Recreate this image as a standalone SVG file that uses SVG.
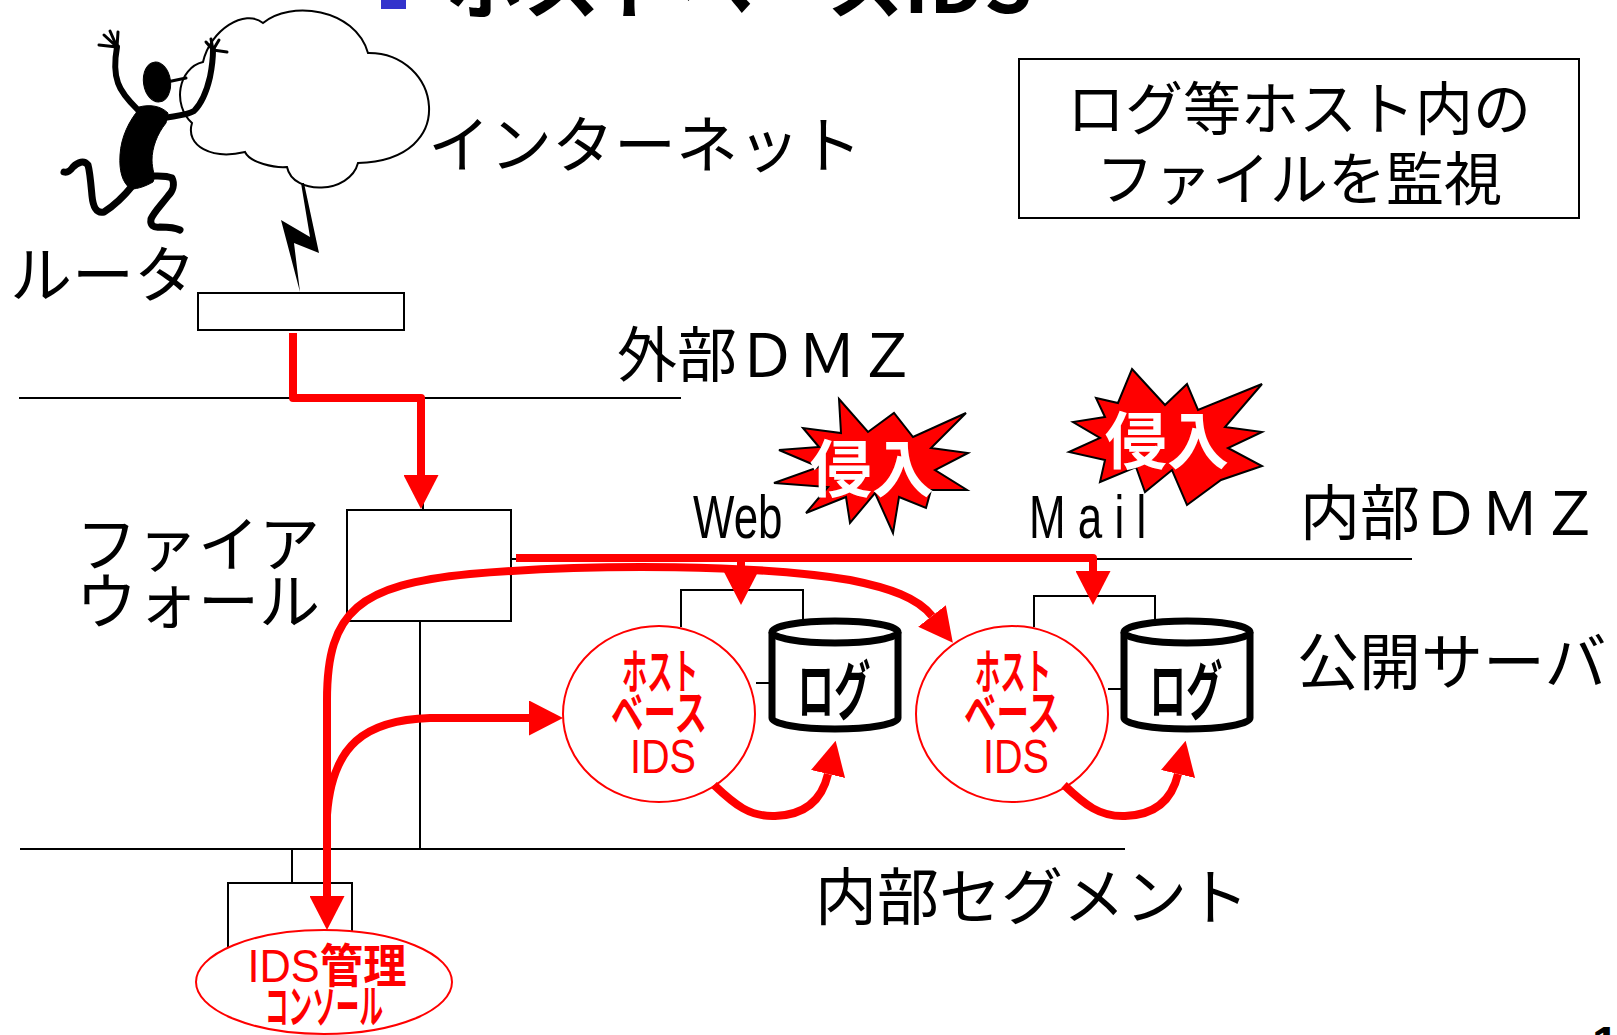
<svg xmlns="http://www.w3.org/2000/svg" width="1617" height="1035" viewBox="0 0 1617 1035">
  <defs>
    <style>
      .jp { font-family: "Noto Sans CJK JP", "Liberation Sans", sans-serif; fill: #000; }
      .lbl { font-size: 62px; }
      .seg { stroke: #000; stroke-width: 2; fill: none; }
      .thin { stroke: #000; stroke-width: 2; fill: none; }
      .box { stroke: #000; stroke-width: 2; fill: #fff; }
      .ids { fill: #fff; stroke: #ff0000; stroke-width: 2; }
      .cyl { fill: #fff; stroke: #000; stroke-width: 7; }
      .red { stroke: #ff0000; stroke-width: 8; fill: none; stroke-linejoin: round; }
      .rt { font-family: "Noto Sans CJK JP", sans-serif; font-weight: 700; fill: #ff0000; text-anchor: middle; }
      .rl { font-family: "Liberation Sans", sans-serif; font-weight: 400; fill: #ff0000; text-anchor: middle; }
      .logt { font-family: "Noto Sans CJK JP", sans-serif; font-weight: 700; font-size: 64px; fill: #000; text-anchor: middle; }
      .burst { fill: #ff0000; stroke: #000; stroke-width: 2; stroke-linejoin: miter; }
      .burstt { font-family: "Noto Sans CJK JP", sans-serif; font-weight: 700; font-size: 62px; fill: #fff; }
      .lat { font-family: "Liberation Sans", sans-serif; font-size: 61px; fill: #000; }
    </style>
    <marker id="ah" markerUnits="userSpaceOnUse" markerWidth="34" markerHeight="35" viewBox="0 0 34 35" refX="0" refY="17.5" orient="auto-start-reverse">
      <path d="M0,0 L34,17.5 L0,35 Z" fill="#ff0000"/>
    </marker>
  </defs>

  <rect width="1617" height="1035" fill="#fff"/>

  <!-- slide title (runs off the top edge) -->
  <g id="title">
    <rect x="381" y="-20" width="25" height="29" fill="#3333cc"/>
    <text class="jp" x="446" y="13" font-size="75" font-weight="700" textLength="586" lengthAdjust="spacingAndGlyphs">ホストベースIDS</text>
  </g>

  <!-- network segments -->
  <g id="segments">
    <path class="seg" d="M19,398 H681"/>
    <path class="seg" d="M511,559 H1412"/>
    <path class="seg" d="M20,849 H1125"/>
  </g>

  <!-- segment and device labels -->
  <g id="labels">
    <text class="jp lbl" x="428" y="168">インターネット</text>
    <text class="jp lbl" x="10" y="298">ルータ</text>
    <text class="jp" x="617" y="377" font-size="60">外部ＤＭＺ</text>
    <text class="jp" x="76" y="567" font-size="61">ファイア</text>
    <text class="jp" x="76" y="624" font-size="61">ウォール</text>
    <text class="jp" x="1300" y="535" font-size="60">内部ＤＭＺ</text>
    <text class="jp lbl" x="1297" y="685">公開サーバ</text>
    <text class="jp lbl" x="815" y="920">内部セグメント</text>
    <text class="lat" transform="translate(693,538) scale(0.72,1)">Web</text>
    <text class="lat" transform="translate(1029,538) scale(0.72,1)" letter-spacing="17">Mail</text>
  </g>

  <!-- note box -->
  <g id="note">
    <rect class="box" x="1019" y="59" width="560" height="159"/>
    <text class="jp" x="1299" y="130" font-size="58" text-anchor="middle">ログ等ホスト内の</text>
    <text class="jp" x="1299" y="200" font-size="58" text-anchor="middle">ファイルを監視</text>
  </g>

  <!-- internet cloud with intruder -->
  <g id="internet">
    <path d="M203,62 C210,30 245,8 263,23 C290,0 355,8 368,53 C440,52 462,160 358,163 C350,194 293,196 287,167 C275,168 250,163 245,152 C212,160 185,146 192,123 C172,105 178,68 203,62 Z" fill="#fff" stroke="#000" stroke-width="2"/>
    <g id="intruder" fill="#000" stroke="#000" stroke-linecap="round" stroke-linejoin="round">
      <ellipse cx="157" cy="82" rx="13.5" ry="20" transform="rotate(-8 157 82)"/>
      <path d="M167,82 L186,78" stroke-width="3" fill="none"/>
      <path d="M139,107 C150,104 161,106 168,113 L166,123 C157,134 152,148 152,160 C152,170 156,176 153,182 C146,186 138,189 131,189 C122,183 119,170 120,155 C121,137 129,121 139,109 Z" stroke-width="1"/>
      <path d="M140,112 C133,105 122,95 118,83 C114,72 115,58 117,47" stroke-width="6" fill="none"/>
      <path d="M117,47 L99,45 M117,47 L104,35 M117,47 L110,31 M117,47 L118,32" stroke-width="3" fill="none"/>
      <path d="M165,118 C175,116 188,115 194,111 C201,104 207,90 210,77 C212,67 213,58 213,50" stroke-width="6" fill="none"/>
      <path d="M213,50 L206,42 M213,50 L211,39 M213,50 L219,40 M213,50 L227,52" stroke-width="3" fill="none"/>
      <path d="M133,185 C125,195 115,205 104,212 C96,214 93,206 92,196 C91,185 90,172 88,165 C84,160 78,162 73,167 C70,171 67,173 64,172" stroke-width="7" fill="none"/>
      <path d="M150,176 C158,176 166,175 172,178 C175,184 173,191 168,196 C162,204 154,212 151,219 C150,225 153,228 160,227 C167,227 174,227 180,230" stroke-width="7" fill="none"/>
    </g>
  </g>

  <!-- router -->
  <g id="router">
    <rect class="box" x="198" y="293" width="206" height="37"/>
  </g>

  <!-- firewall -->
  <g id="firewall">
    <rect class="box" x="347" y="510" width="164" height="111"/>
  </g>

  <!-- intrusion bursts -->
  <g id="burst-web">
    <polygon class="burst" points="839,399 868,432 894,413 913,437 966,413 931,448 968,453 935,470 967,490 931,490 926,508 899,497 893,533 875,493 850,523 846,497 806,513 828,487 774,483 819,467 779,450 819,447 803,428 841,433"/>
    <text class="burstt" x="810" y="492">侵入</text>
  </g>
  <g id="burst-mail">
    <polygon class="burst" points="1132,369 1165,405 1187,384 1198,410 1262,384 1225,427 1262,432 1228,448 1262,466 1221,480 1187,505 1172,470 1145,492 1136,467 1100,482 1105,460 1069,452 1100,438 1073,422 1105,417 1096,398 1118,403"/>
    <text class="burstt" x="1105" y="464">侵入</text>
  </g>

  <!-- Web server: host IDS + log -->
  <g id="web-server">
    <path class="thin" d="M681,627 V590 H803 V620 M756,683 H772"/>
    <ellipse class="ids" cx="659" cy="714" rx="96" ry="88"/>
    <text class="rt" x="660" y="689" font-size="48" textLength="76" lengthAdjust="spacingAndGlyphs">ホスト</text>
    <text class="rt" x="659" y="730" font-size="48" textLength="96" lengthAdjust="spacingAndGlyphs">ベース</text>
    <text class="rl" x="663" y="773" font-size="48" textLength="66" lengthAdjust="spacingAndGlyphs">IDS</text>
    <path class="cyl" d="M772,632 V718 A63,11 0 0 0 898,718 V632"/>
    <ellipse class="cyl" cx="835" cy="632" rx="63" ry="11"/>
    <text class="logt" x="834" y="714" textLength="73" lengthAdjust="spacingAndGlyphs">ログ</text>
  </g>

  <!-- Mail server: host IDS + log -->
  <g id="mail-server">
    <path class="thin" d="M1034,627 V596 H1155 V621 M1108,689 H1124"/>
    <ellipse class="ids" cx="1012" cy="714" rx="96" ry="88"/>
    <text class="rt" x="1013" y="689" font-size="48" textLength="76" lengthAdjust="spacingAndGlyphs">ホスト</text>
    <text class="rt" x="1012" y="730" font-size="48" textLength="96" lengthAdjust="spacingAndGlyphs">ベース</text>
    <text class="rl" x="1016" y="773" font-size="48" textLength="66" lengthAdjust="spacingAndGlyphs">IDS</text>
    <path class="cyl" d="M1124,632 V718 A63,11 0 0 0 1250,718 V632"/>
    <ellipse class="cyl" cx="1187" cy="632" rx="63" ry="11"/>
    <text class="logt" x="1186" y="714" textLength="73" lengthAdjust="spacingAndGlyphs">ログ</text>
  </g>

  <!-- IDS management console -->
  <g id="console">
    <path class="thin" d="M228,948 V883 H352 V931"/>
    <ellipse class="ids" cx="324" cy="982" rx="128" ry="52"/>
    <text class="rt" x="327" y="982" font-size="46" textLength="159" lengthAdjust="spacingAndGlyphs"><tspan font-family="Liberation Sans, sans-serif" font-weight="400">IDS</tspan>管理</text>
    <text class="rt" x="324" y="1023" font-size="46" textLength="118" lengthAdjust="spacingAndGlyphs">コンソール</text>
  </g>

  <!-- connectors -->
  <g id="connectors">
    <polygon points="301,183 304,183 319,253 294,243 300,292 281,220 310,237" fill="#000"/>
    <path class="thin" d="M423,398 V510"/>
    <path class="thin" d="M420,621 V849"/>
    <path class="thin" d="M292,849 V883"/>
    <path class="red" d="M293,333 V398 H421 V475" marker-end="url(#ah)" stroke-width="7"/>
    <path class="red" d="M516,558 H1093 V571" marker-end="url(#ah)"/>
    <path class="red" d="M741,558 V571" marker-end="url(#ah)"/>
    <path class="red" d="M327,896 V700 C327,610 360,585 470,574 C600,563 760,565 850,580 C890,588 918,598 932,616" marker-start="url(#ah)" marker-end="url(#ah)"/>
    <path class="red" d="M327,815 C332,745 365,720 430,718 L529,718" marker-end="url(#ah)"/>
    <path class="red" d="M714,785 C735,805 750,817 775,816 C805,815 822,800 828,774" marker-end="url(#ah)"/>
    <path class="red" d="M1064,785 C1085,805 1100,817 1125,816 C1155,815 1172,800 1178,774" marker-end="url(#ah)"/>
  </g>

  <!-- page number, cut at the bottom edge -->
  <text x="1592" y="1060" font-family="Liberation Sans, sans-serif" font-size="48" font-weight="700" fill="#000">1</text>
</svg>
